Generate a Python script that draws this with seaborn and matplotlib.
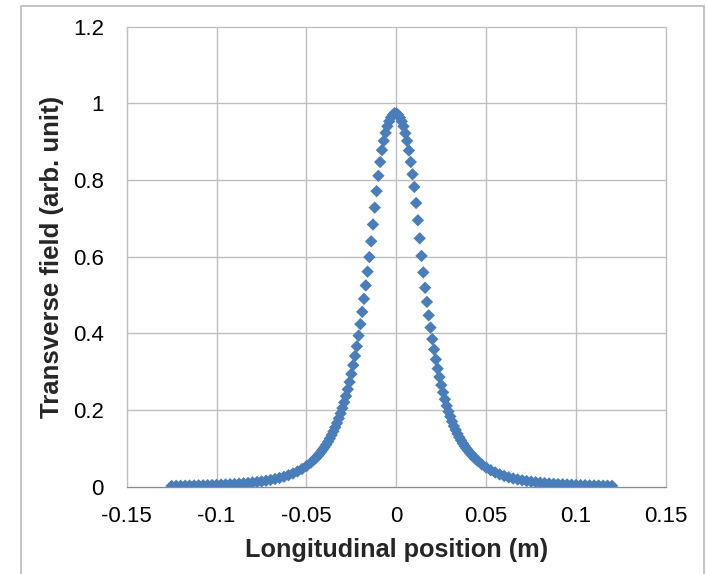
"""
Transverse field profile along the longitudinal axis (scatter of diamonds)
"""

import matplotlib
matplotlib.use("Agg")
import matplotlib.pyplot as plt
import pandas as pd
import seaborn as sns
from matplotlib.patches import Rectangle

#  Data
# left tail (m)
POSITION_LEFT_TAIL = [
    -0.125, -0.1225, -0.12, -0.1175, -0.115, -0.1125, -0.11, -0.1075,
    -0.105, -0.1025, -0.1, -0.0975, -0.095, -0.0925, -0.09, -0.0875,
    -0.085, -0.0825, -0.08, -0.0775, -0.075, -0.0725, -0.07, -0.0675,
    -0.065, -0.0625, -0.06, -0.0575, -0.055, -0.0525, -0.05, -0.0475,
]
FIELD_LEFT_TAIL = [
    0.0021, 0.0022, 0.0024, 0.0026, 0.0029, 0.0031, 0.0034, 0.0037,
    0.0040, 0.0044, 0.0048, 0.0053, 0.0059, 0.0065, 0.0072, 0.0079,
    0.0088, 0.0098, 0.0110, 0.0123, 0.0138, 0.0156, 0.0176, 0.0200,
    0.0228, 0.0260, 0.0299, 0.0344, 0.0397, 0.0461, 0.0537, 0.0628,
]

# central part, 1 mm step
POSITION_CORE = [
    -0.045, -0.044, -0.043, -0.042, -0.041, -0.040, -0.039, -0.038,
    -0.037, -0.036, -0.035, -0.034, -0.033, -0.032, -0.031, -0.030,
    -0.029, -0.028, -0.027, -0.026, -0.025, -0.024, -0.023, -0.022,
    -0.021, -0.020, -0.019, -0.018, -0.017, -0.016, -0.015, -0.014,
    -0.013, -0.012, -0.011, -0.010, -0.009, -0.008, -0.007, -0.006,
    -0.005, -0.004, -0.003, -0.002, -0.001, 0.000, 0.001, 0.002,
    0.003, 0.004, 0.005, 0.006, 0.007, 0.008, 0.009, 0.010,
    0.011, 0.012, 0.013, 0.014, 0.015, 0.016, 0.017, 0.018,
    0.019, 0.020, 0.021, 0.022, 0.023, 0.024, 0.025, 0.026,
    0.027, 0.028, 0.029, 0.030, 0.031, 0.032, 0.033, 0.034,
    0.035, 0.036, 0.037, 0.038, 0.039, 0.040, 0.041, 0.042,
    0.043, 0.044, 0.045,
]
FIELD_CORE = [
    0.0738, 0.0788, 0.0842, 0.0900, 0.0963, 0.1027, 0.1097, 0.1173,
    0.1255, 0.1345, 0.1443, 0.1548, 0.166, 0.178, 0.191, 0.205,
    0.220, 0.236, 0.254, 0.273, 0.294, 0.317, 0.341, 0.366,
    0.394, 0.424, 0.456, 0.490, 0.525, 0.561, 0.599, 0.640,
    0.684, 0.728, 0.771, 0.811, 0.847, 0.878, 0.902, 0.923,
    0.940, 0.953, 0.963, 0.970, 0.974, 0.974, 0.970, 0.963,
    0.953, 0.940, 0.922, 0.902, 0.877, 0.847, 0.815, 0.782,
    0.740, 0.695, 0.648, 0.602, 0.559, 0.519, 0.482, 0.447,
    0.415, 0.385, 0.358, 0.332, 0.308, 0.286, 0.265, 0.246,
    0.228, 0.211, 0.196, 0.183, 0.170, 0.158, 0.148, 0.138,
    0.129, 0.121, 0.113, 0.106, 0.0995, 0.0935, 0.0878, 0.0825,
    0.0775, 0.0728, 0.0683,
]

# right tail (m)
POSITION_RIGHT_TAIL = [
    0.0475, 0.05, 0.0525, 0.055, 0.0575, 0.06, 0.0625, 0.065,
    0.0675, 0.07, 0.0725, 0.075, 0.0775, 0.08, 0.0825, 0.085,
    0.0875, 0.09, 0.0925, 0.095, 0.0975, 0.1, 0.1025, 0.105,
    0.1075, 0.11, 0.1125, 0.115, 0.1175, 0.12,
]
FIELD_RIGHT_TAIL = [
    0.0582, 0.0499, 0.0429, 0.0370, 0.0321, 0.0279, 0.0244, 0.0214,
    0.0188, 0.0166, 0.0147, 0.0131, 0.0117, 0.0104, 0.0093, 0.0084,
    0.0075, 0.0068, 0.0062, 0.0056, 0.0051, 0.0046, 0.0042, 0.0039,
    0.0035, 0.0032, 0.0030, 0.0027, 0.0025, 0.0023,
]

X_TICKS = [-0.15, -0.1, -0.05, 0.0, 0.05, 0.1, 0.15]
X_TICK_LABELS = ["-0.15", "-0.1", "-0.05", "0", "0.05", "0.1", "0.15"]
Y_TICKS = [0.0, 0.2, 0.4, 0.6, 0.8, 1.0, 1.2]
Y_TICK_LABELS = ["0", "0.2", "0.4", "0.6", "0.8", "1", "1.2"]

#  Style
MARKER_COLOR = "#4A7EBB"
GRID_COLOR = "#BFBFBF"
AXIS_COLOR = "#8C8C8C"


def build_frame():
    position = POSITION_LEFT_TAIL + POSITION_CORE + POSITION_RIGHT_TAIL
    field = FIELD_LEFT_TAIL + FIELD_CORE + FIELD_RIGHT_TAIL
    return pd.DataFrame({"position": position, "field": field})


def plot_profile(df):
    sns.set_style("white")
    plt.rcParams["font.family"] = ["Liberation Sans", "DejaVu Sans"]

    fig = plt.figure(figsize=(7.06, 5.74), dpi=100)
    ax = fig.add_axes([0.1795, 0.1521, 0.7638, 0.8014])

    sns.scatterplot(data=df, x="position", y="field", marker="D", s=40,
                    color=MARKER_COLOR, edgecolor="none", linewidth=0,
                    ax=ax, zorder=3)

    ax.set_xlim(-0.15, 0.15)
    ax.set_ylim(0, 1.2)
    ax.set_xticks(X_TICKS)
    ax.set_xticklabels(X_TICK_LABELS)
    ax.set_yticks(Y_TICKS)
    ax.set_yticklabels(Y_TICK_LABELS)

    ax.grid(True, color=GRID_COLOR, linewidth=1.0)
    ax.set_axisbelow(True)
    for line in ax.get_xgridlines() + ax.get_ygridlines():
        line.set_clip_on(False)

    ax.spines["top"].set_visible(False)
    ax.spines["right"].set_visible(False)
    ax.spines["left"].set_color(GRID_COLOR)
    ax.spines["bottom"].set_color(AXIS_COLOR)
    ax.tick_params(axis="both", direction="out", length=5.5, width=1,
                   color=GRID_COLOR, labelcolor="black", labelsize=16)
    ax.tick_params(axis="x", pad=8.5)
    ax.tick_params(axis="y", pad=11)

    ax.set_xlabel("Longitudinal position (m)", fontsize=18.2,
                  fontweight="bold", labelpad=7.5)
    ax.set_ylabel("Transverse field (arb. unit)", fontsize=18.5,
                  fontweight="bold", labelpad=6)

    # outer chart border
    fig.patches.append(Rectangle((0.0297, -0.01), 0.9673, 0.9995,
                                 transform=fig.transFigure, fill=False,
                                 edgecolor=GRID_COLOR, linewidth=1.3))

    fig.savefig("out.png", dpi=100)
    plt.close(fig)


def main():
    df = build_frame()
    plot_profile(df)


if __name__ == "__main__":
    main()
